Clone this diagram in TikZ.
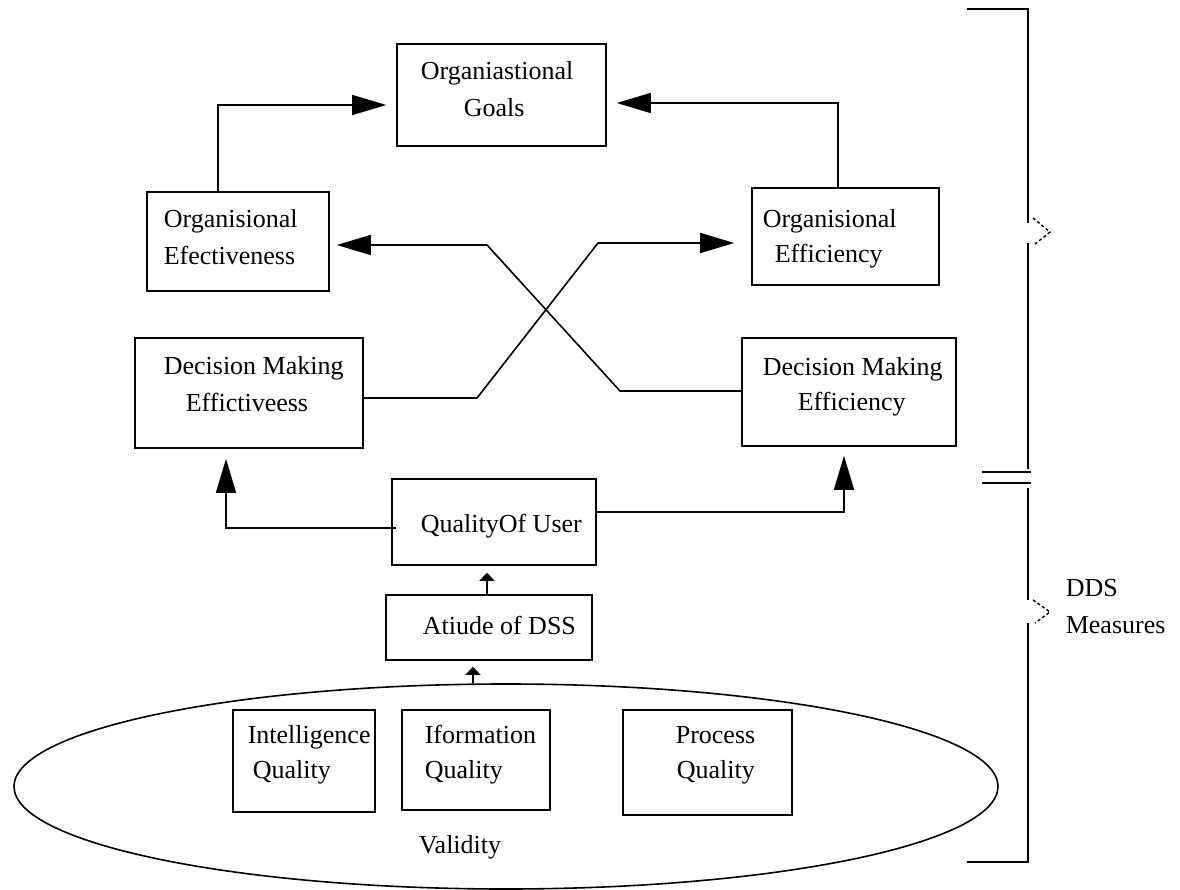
\documentclass[tikz,border=0pt]{standalone}
\usepackage{fontspec}
\setmainfont{Liberation Serif}
\usetikzlibrary{arrows.meta,shapes.geometric}

\begin{document}
\begin{tikzpicture}[x=1pt,y=-1pt,
  line width=1.6pt,
  box/.style={draw, rectangle, inner sep=0pt},
  txt/.style={inner sep=0pt, anchor=base west, font=\fontsize{26}{37}\selectfont},
  bigarrow/.style={-{Triangle[length=34pt,width=20pt]}},
  smallarrow/.style={-{Triangle[length=8pt,width=15pt]}},
  chevron/.style={dash pattern=on 3pt off 2.5pt, line width=1.4pt}]

\useasboundingbox[fill=white] (0,0) rectangle (1180,890);

% ---- oval holding the three quality measures
\node[draw, ellipse, minimum width=984pt, minimum height=205pt, inner sep=0pt] (oval) at (506,786.5) {};

% ---- boxes
\node[box, minimum width=209pt, minimum height=102pt] (goals)  at (501.5,95) {};
\node[box, minimum width=182pt, minimum height=99pt]  (orgeff) at (238,241.5) {};
\node[box, minimum width=187pt, minimum height=97pt]  (orgeffi) at (845.5,236.5) {};
\node[box, minimum width=228pt, minimum height=110pt] (dmeff)  at (249,393) {};
\node[box, minimum width=214pt, minimum height=108pt] (dmeffi) at (849,392) {};
\node[box, minimum width=204pt, minimum height=86pt]  (qou)    at (494,522) {};
\node[box, minimum width=206pt, minimum height=65pt]  (atiude) at (489,627.5) {};
\node[box, minimum width=142pt, minimum height=102pt] (intel)  at (304,761) {};
\node[box, minimum width=148pt, minimum height=100pt] (iform)  at (476,760) {};
\node[box, minimum width=169pt, minimum height=105pt] (proc)   at (707.5,762.5) {};

% ---- box texts
\node[txt] (goals1) at (420,80)  {Organiastional};
\node[txt] (goals2) at (463,117) {Goals};
\node[txt] (oe1) at (163,228) {Organisional};
\node[txt] (oe2) at (163,265) {Efectiveness};
\node[txt] (oi1) at (762,228) {Organisional};
\node[txt] (oi2) at (774,263) {Efficiency};
\node[txt] (de1) at (163,374) {Decision Making};
\node[txt] (de2) at (185,411) {Effictiveess};
\node[txt] (di1) at (762,375) {Decision Making};
\node[txt] (di2) at (797,410) {Efficiency};
\node[txt] (qu1) at (420,532) {QualityOf User};
\node[txt] (at1) at (422,634) {Atiude of DSS};
\node[txt] (in1) at (247,743) {Intelligence};
\node[txt] (in2) at (252,778) {Quality};
\node[txt] (if1) at (424,743) {Iformation};
\node[txt] (if2) at (424,778) {Quality};
\node[txt] (pr1) at (675,743) {Process};
\node[txt] (pr2) at (676,778) {Quality};
\node[txt] (val) at (418,853) {Validity};
\node[txt] (dds1) at (1065,596) {DDS};
\node[txt] (dds2) at (1065,633) {Measures};

% ---- bend points of the connectors
\coordinate (b1) at (218,105);
\coordinate (b2) at (838,103);
\coordinate (a1) at (477,398);
\coordinate (a2) at (598,243);
\coordinate (c1) at (620,391);
\coordinate (c2) at (487,245);
\coordinate (q1) at (226,528);
\coordinate (q2) at (844,512);
\coordinate (s1) at (487,0);
\coordinate (s2) at (473,0);

% ---- connectors
\draw[bigarrow, shorten >=10pt] (b1 |- orgeff.north) -- (b1) -- (b1 -| goals.west);
\draw[bigarrow, shorten >=10pt] (b2 |- orgeffi.north) -- (b2) -- (b2 -| goals.east);
\draw[bigarrow, shorten >=17pt] (dmeff.east |- a1) -- (a1) -- (a2) -- (a2 -| orgeffi.west);
\draw[bigarrow, shorten >=7pt] (dmeffi.west |- c1) -- (c1) -- (c2) -- (c2 -| orgeff.east);
\draw[bigarrow, shorten >=10pt] ([xshift=5pt]qou.west |- q1) -- (q1) -- (q1 |- dmeff.south);
\draw[bigarrow, shorten >=9pt] (qou.east |- q2) -- (q2) -- (q2 |- dmeffi.south);
\draw[smallarrow, shorten >=7pt] (s1 |- atiude.north) -- (s1 |- qou.south);
\draw[smallarrow, shorten >=6pt] (s2 |- oval.north) -- (s2 |- atiude.south);

% ---- right-hand bracket with its two dashed pointers
\draw (967,9) -- (1028,9) -- (1028,223);
\draw (1028,243) -- (1028,469);
\draw (982,472) -- (1031,472);
\draw (982,483) -- (1031,483);
\draw (1028,488) -- (1028,600);
\draw (1028,623) -- (1028,862) -- (967,862);
\draw[chevron] (1033,218) -- (1050,232) -- (1035,244);
\draw[chevron] (1033,600) -- (1050,612) -- (1035,623);

\end{tikzpicture}
\end{document}
